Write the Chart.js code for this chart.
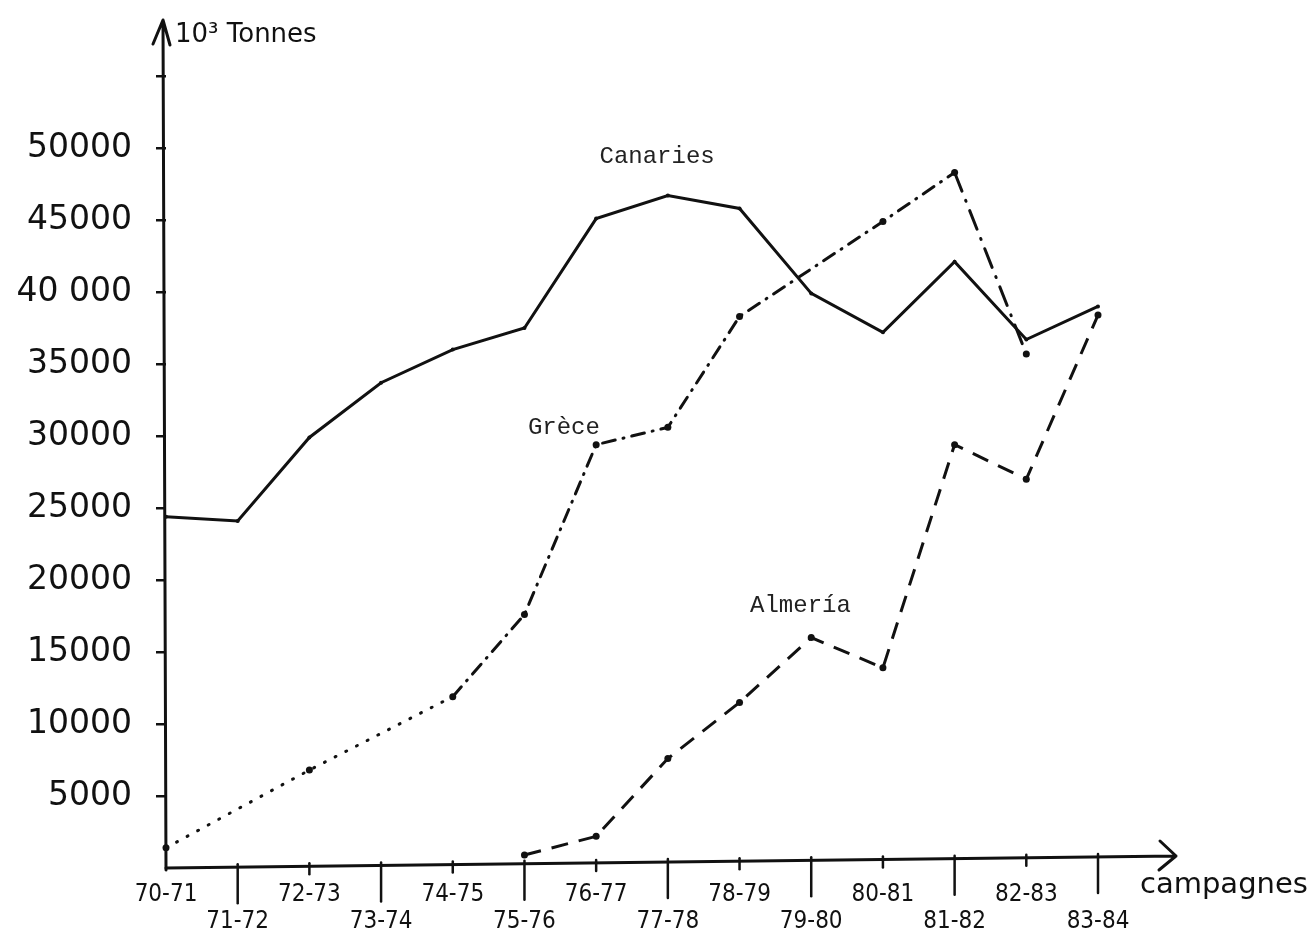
<!DOCTYPE html>
<html>
<head>
<meta charset="utf-8">
<script src="https://cdn.jsdelivr.net/npm/chart.js@4"></script>
<style>
  body { margin: 0; background: #fff; }
  #wrap { width: 1316px; height: 942px; position: relative; }
</style>
</head>
<body>
<div id="wrap"><canvas id="myChart"></canvas></div>
<script>
// campagnes (x axis)
const campagnes = ['70-71', '71-72', '72-73', '73-74', '74-75', '75-76', '76-77',
                   '77-78', '78-79', '79-80', '80-81', '81-82', '82-83', '83-84'];

// production, 10^3 tonnes
const canaries = [24400, 24100, 29900, 33700, 36000, 37500, 45100,
                  46700, 45800, 39900, 37200, 42100, 36700, 39000];
const grece    = [1400, null, 6800, null, 11900, 17600, 29400,
                  30600, 38300, null, 44900, 48300, 35700, null];
const almeria  = [null, null, null, null, null, 900, 2200,
                  7600, 11500, 16000, 13900, 29400, 27000, 38400];

// y tick labels, one per 5000 step
const yTickLabels = ['', '5000', '10000', '15000', '20000', '25000', '30000',
                     '35000', '40 000', '45000', '50000', ''];

// series names written beside the curves (x = campagne index, y = tonnes)
const seriesNotes = [
  { text: 'Canaries', x: 6.85, y: 49400 },
  { text: 'Grèce', x: 5.55, y: 30600 },
  { text: 'Almería', x: 8.85, y: 18200 }
];

const ink = '#111';
const hand = '"DejaVu Sans", sans-serif';

const sketchAxes = {
  id: 'sketchAxes',
  afterDraw(chart) {
    const ctx = chart.ctx;
    const xs = chart.scales.x;
    const ys = chart.scales.y;
    const x0 = xs.left;
    const y0 = ys.bottom;
    ctx.save();
    ctx.strokeStyle = ink;
    ctx.lineWidth = 3;
    ctx.lineCap = 'round';
    ctx.lineJoin = 'round';

    // y axis with arrow
    ctx.beginPath();
    ctx.moveTo(x0, y0 + 2);
    ctx.lineTo(x0 - 3, 20);
    ctx.moveTo(x0 - 13, 44);
    ctx.lineTo(x0 - 3, 20);
    ctx.lineTo(x0 + 4, 45);
    ctx.stroke();

    // x axis with arrow
    const xEnd = xs.right + 78;
    ctx.beginPath();
    ctx.moveTo(x0, y0);
    ctx.lineTo(xEnd, y0 - 12);
    ctx.moveTo(xEnd - 16, y0 - 27);
    ctx.lineTo(xEnd, y0 - 12);
    ctx.lineTo(xEnd - 17, y0 + 2);
    ctx.stroke();

    // x tick marks, long ones under the lower labels
    ctx.lineWidth = 2.5;
    campagnes.forEach((c, i) => {
      if (i === 0) return;
      const px = xs.getPixelForValue(i);
      const ay = y0 - 12 * (px - x0) / (xEnd - x0);
      ctx.beginPath();
      ctx.moveTo(px, ay - 3);
      ctx.lineTo(px, ay + (i % 2 ? 36 : 8));
      ctx.stroke();
    });

    // axis titles
    ctx.fillStyle = ink;
    ctx.textBaseline = 'alphabetic';
    ctx.textAlign = 'left';
    ctx.font = '26px ' + hand;
    ctx.fillText('10³ Tonnes', x0 + 9, 42);
    ctx.font = '29px ' + hand;
    ctx.fillText('campagnes', 1140, 893);

    // series names
    ctx.font = '24px "Liberation Mono", monospace';
    ctx.textAlign = 'center';
    ctx.textBaseline = 'middle';
    ctx.fillStyle = '#222';
    seriesNotes.forEach(n => {
      ctx.fillText(n.text, xs.getPixelForValue(n.x), ys.getPixelForValue(n.y));
    });
    ctx.restore();
  }
};

const ctx = document.getElementById('myChart').getContext('2d');
const chart = new Chart(ctx, {
  type: 'line',
  data: {
    labels: campagnes,
    datasets: [
      {
        label: 'Canaries',
        data: canaries,
        borderColor: ink,
        borderWidth: 3,
        pointRadius: 2,
        pointBackgroundColor: ink,
        pointBorderWidth: 0,
        tension: 0
      },
      {
        label: 'Grèce',
        data: grece,
        spanGaps: true,
        borderColor: ink,
        borderWidth: 3,
        borderCapStyle: 'round',
        pointRadius: 3.5,
        pointBackgroundColor: ink,
        pointBorderWidth: 0,
        tension: 0,
        segment: {
          borderDash: c => {
            if (c.p1DataIndex <= 4) return [1, 11];
            if (c.p0DataIndex >= 11) return [20, 10, 1, 10];
            return [13, 8, 1, 8];
          }
        }
      },
      {
        label: 'Almería',
        data: almeria,
        borderColor: ink,
        borderWidth: 3,
        borderDash: [17, 11],
        pointRadius: 3.5,
        pointBackgroundColor: ink,
        pointBorderWidth: 0,
        tension: 0
      }
    ]
  },
  options: {
    responsive: true,
    maintainAspectRatio: false,
    animation: false,
    layout: { padding: { top: 76, right: 218, left: 0, bottom: 0 } },
    plugins: {
      legend: { display: false },
      tooltip: { enabled: false }
    },
    scales: {
      x: {
        type: 'category',
        offset: false,
        grid: { display: false },
        border: { display: false },
        afterFit: s => { s.height = 74; },
        ticks: {
          autoSkip: false,
          maxRotation: 0,
          padding: 6,
          color: ink,
          font: { family: '"DejaVu Sans Condensed", "DejaVu Sans", sans-serif', size: 24, lineHeight: 1.1 },
          callback: (v, i) => i % 2 ? ['', campagnes[i]] : campagnes[i]
        }
      },
      y: {
        min: 0,
        max: 55000,
        grid: {
          drawOnChartArea: false,
          drawTicks: true,
          tickLength: 10,
          lineWidth: 2.5,
          color: c => c.tick && c.tick.value === 0 ? 'rgba(0,0,0,0)' : ink
        },
        border: { display: false },
        afterFit: s => { s.width = 166; },
        ticks: {
          stepSize: 5000,
          padding: 24,
          color: ink,
          font: { family: hand, size: 33 },
          callback: v => yTickLabels[Math.round(v / 5000)]
        }
      }
    }
  },
  plugins: [sketchAxes]
});
</script>
</body>
</html>
